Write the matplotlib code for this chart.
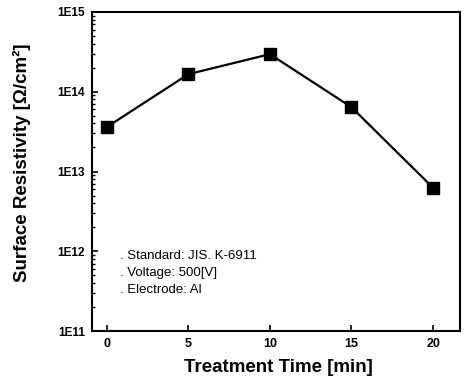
import matplotlib
matplotlib.use("Agg")
import matplotlib.pyplot as plt
from matplotlib.ticker import LogLocator, FixedLocator, NullFormatter

time_min = [0, 5, 10, 15, 20]
resistivity = [3.6e13, 1.66e14, 2.96e14, 6.4e13, 6.25e12]
x_ticks = [0, 5, 10, 15, 20]
y_ticks = [1e11, 1e12, 1e13, 1e14, 1e15]
y_tick_labels = ["1E11", "1E12", "1E13", "1E14", "1E15"]
notes = [". Standard: JIS. K-6911", ". Voltage: 500[V]", ". Electrode: Al"]

plt.rcParams['font.family'] = ['Liberation Sans', 'DejaVu Sans']

W, H = 467, 378
fig = plt.figure(figsize=(W/100, H/100), dpi=100)
ax = fig.add_axes([92/W, 47/H, 368/W, 319/H])

ax.plot(time_min, resistivity, color='black', lw=1.6, marker='s', ms=9,
        mfc='black', mec='black')
ax.set_yscale('log')
ax.set_ylim(1e11, 1e15)
ax.set_xlim(-0.9, 21.65)
ax.set_xticks(x_ticks)
ax.set_xticklabels([str(v) for v in x_ticks], fontsize=9, fontweight='bold')
ax.yaxis.set_major_locator(FixedLocator(y_ticks))
ax.set_yticklabels(y_tick_labels, fontsize=8.5, fontweight='bold')
ax.yaxis.set_minor_locator(LogLocator(base=10, subs=range(2, 10)))
ax.yaxis.set_minor_formatter(NullFormatter())
ax.tick_params(axis='both', which='major', direction='in', length=4, width=1.2)
ax.tick_params(axis='y', which='minor', direction='in', length=2.5, width=1)
ax.tick_params(axis='x', pad=5)
ax.tick_params(axis='y', pad=5)
for s in ax.spines.values():
    s.set_linewidth(1.5)

fig.text(278/W, 1 - 368/H, "Treatment Time [min]", fontsize=13.5,
         fontweight='bold', ha='center', va='center')
fig.text(22/W, 1 - 163/H, "Surface Resistivity [Ω/cm²]", fontsize=13.5,
         fontweight='bold', ha='center', va='center', rotation=90)

note_y = [256, 273, 290]
for t, yy in zip(notes, note_y):
    fig.text(120/W, 1 - yy/H, t, fontsize=9.5, ha='left', va='center')

fig.savefig("out.png", dpi=100)
